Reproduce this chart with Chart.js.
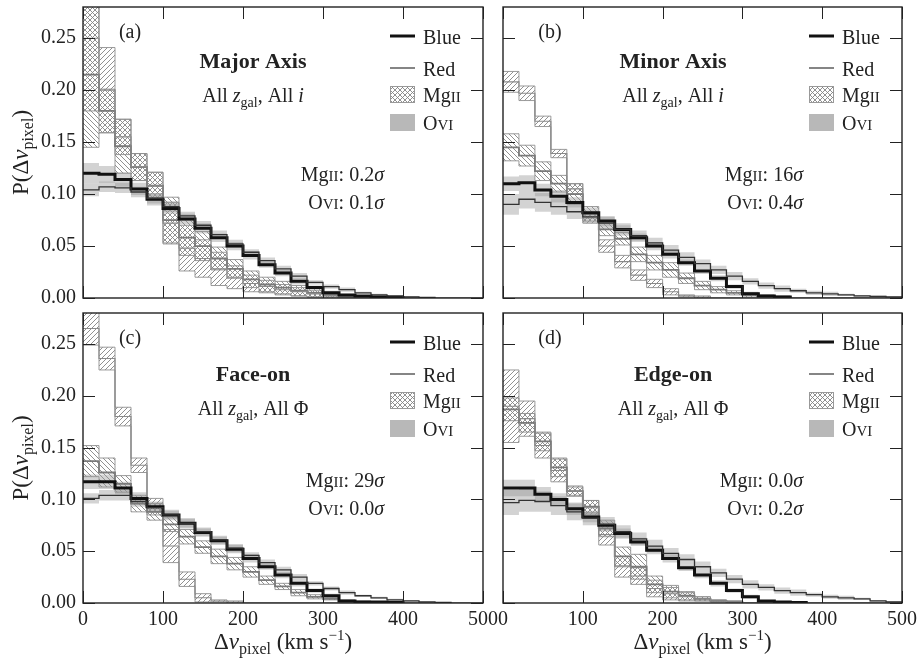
<!DOCTYPE html>
<html>
<head>
<meta charset="utf-8">
<script src="https://cdn.jsdelivr.net/npm/chart.js@4.4.0/dist/chart.umd.min.js"></script>
<style>
  body { margin: 0; background: #fff; width: 919px; height: 658px; position: relative; overflow: hidden; }
  canvas { position: absolute; }
</style>
</head>
<body>
<canvas id="c0" width="500" height="310" style="left:0;top:0"></canvas>
<canvas id="c1" width="429" height="310" style="left:490px;top:0"></canvas>
<canvas id="c2" width="500" height="353" style="left:0;top:305px"></canvas>
<canvas id="c3" width="429" height="353" style="left:490px;top:305px"></canvas>
<script>
// Bins (km/s), 20 km/s wide
const binStart = [0, 20, 40, 60, 80, 100, 120, 140, 160, 180, 200, 220, 240, 260, 280, 300, 320, 340, 360, 380, 400, 420, 440, 460, 480];
const binWidth = 20;
const xTickValues = [0, 100, 200, 300, 400, 500];
const yTickValues = [0, 0.05, 0.10, 0.15, 0.20, 0.25];

// Panel text
const panelLetters = ['(a)', '(b)', '(c)', '(d)'];
const panelTitles = ['Major Axis', 'Minor Axis', 'Face-on', 'Edge-on'];
const panelAngles = ['i', 'i', 'Φ', 'Φ'];
const mgSigma = ['0.2', '16', '29', '0.0'];
const oviSigma = ['0.1', '0.4', '0.0', '0.2'];

// (a) Major axis
const mgBlueA    = [0.215, 0.180, 0.146, 0.126, 0.108, 0.075, 0.058, 0.050, 0.038, 0.028, 0.018, 0.013, 0.010, 0.007, 0.005, 0.003, 0.001, 0, 0, 0, 0, 0, 0, 0, 0];
const mgBlueAErr = [0.070, 0.021, 0.026, 0.013, 0.013, 0.022, 0.017, 0.014, 0.011, 0.009, 0.008, 0.007, 0.006, 0.005, 0.004, 0.002, 0.001, 0, 0, 0, 0, 0, 0, 0, 0];
const mgRedA     = [0.250, 0.200, 0.155, 0.126, 0.108, 0.072, 0.048, 0.038, 0.028, 0.020, 0.014, 0.011, 0.008, 0.006, 0.004, 0.002, 0.001, 0, 0, 0, 0, 0, 0, 0, 0];
const mgRedAErr  = [0.070, 0.041, 0.017, 0.013, 0.013, 0.020, 0.022, 0.018, 0.016, 0.011, 0.008, 0.006, 0.005, 0.004, 0.003, 0.002, 0.001, 0, 0, 0, 0, 0, 0, 0, 0];
const oviBlueA    = [0.120, 0.119, 0.114, 0.105, 0.095, 0.086, 0.076, 0.067, 0.058, 0.050, 0.041, 0.032, 0.024, 0.016, 0.010, 0.005, 0.003, 0.002, 0.001, 0.0005, 0, 0, 0, 0, 0];
const oviBlueAErr = [0.010, 0.008, 0.007, 0.006, 0.006, 0.005, 0.005, 0.005, 0.004, 0.004, 0.004, 0.003, 0.003, 0.003, 0.002, 0.002, 0.001, 0.001, 0.001, 0.0005, 0, 0, 0, 0, 0];
const oviRedA     = [0.104, 0.107, 0.106, 0.102, 0.096, 0.088, 0.079, 0.070, 0.061, 0.052, 0.044, 0.036, 0.028, 0.021, 0.015, 0.011, 0.008, 0.005, 0.003, 0.002, 0.001, 0.0005, 0, 0, 0];
const oviRedAErr  = [0.006, 0.005, 0.005, 0.005, 0.005, 0.005, 0.004, 0.004, 0.004, 0.004, 0.003, 0.003, 0.003, 0.003, 0.002, 0.002, 0.002, 0.001, 0.001, 0.001, 0.001, 0.0005, 0, 0, 0];

// (b) Minor axis
const mgBlueB    = [0.145, 0.137, 0.122, 0.110, 0.100, 0.081, 0.066, 0.057, 0.042, 0.034, 0.027, 0.019, 0.012, 0.008, 0.005, 0.003, 0.002, 0.001, 0, 0, 0, 0, 0, 0, 0];
const mgBlueBErr = [0.013, 0.010, 0.009, 0.008, 0.010, 0.007, 0.006, 0.006, 0.007, 0.007, 0.007, 0.005, 0.004, 0.003, 0.002, 0.002, 0.001, 0.001, 0, 0, 0, 0, 0, 0, 0];
const mgRedB     = [0.208, 0.197, 0.170, 0.139, 0.105, 0.077, 0.050, 0.035, 0.022, 0.014, 0.006, 0.002, 0.001, 0, 0, 0, 0, 0, 0, 0, 0, 0, 0, 0, 0];
const mgRedBErr  = [0.010, 0.007, 0.005, 0.004, 0.005, 0.005, 0.006, 0.006, 0.005, 0.004, 0.003, 0.001, 0.001, 0, 0, 0, 0, 0, 0, 0, 0, 0, 0, 0, 0];
const oviBlueB    = [0.110, 0.111, 0.104, 0.098, 0.092, 0.082, 0.074, 0.066, 0.058, 0.050, 0.042, 0.034, 0.026, 0.019, 0.011, 0.004, 0.002, 0.001, 0, 0, 0, 0, 0, 0, 0];
const oviBlueBErr = [0.007, 0.007, 0.006, 0.006, 0.005, 0.005, 0.005, 0.004, 0.004, 0.004, 0.004, 0.003, 0.003, 0.003, 0.002, 0.002, 0.001, 0.001, 0, 0, 0, 0, 0, 0, 0];
const oviRedB     = [0.090, 0.095, 0.092, 0.088, 0.083, 0.078, 0.072, 0.066, 0.060, 0.053, 0.046, 0.039, 0.033, 0.027, 0.021, 0.016, 0.012, 0.009, 0.007, 0.005, 0.004, 0.003, 0.002, 0.0015, 0.001];
const oviRedBErr  = [0.010, 0.009, 0.009, 0.008, 0.007, 0.006, 0.006, 0.006, 0.005, 0.005, 0.005, 0.005, 0.004, 0.004, 0.004, 0.003, 0.003, 0.003, 0.002, 0.002, 0.002, 0.001, 0.001, 0.001, 0.001];

// (c) Face-on
const mgBlueC    = [0.137, 0.126, 0.115, 0.096, 0.088, 0.076, 0.064, 0.054, 0.045, 0.038, 0.030, 0.022, 0.016, 0.010, 0.006, 0.004, 0.002, 0.001, 0, 0, 0, 0, 0, 0, 0];
const mgBlueCErr = [0.015, 0.014, 0.008, 0.008, 0.008, 0.007, 0.007, 0.006, 0.007, 0.006, 0.005, 0.004, 0.003, 0.003, 0.002, 0.001, 0.001, 0.001, 0, 0, 0, 0, 0, 0, 0];
const mgRedC     = [0.265, 0.236, 0.180, 0.133, 0.093, 0.055, 0.023, 0.005, 0.002, 0.001, 0, 0, 0, 0, 0, 0, 0, 0, 0, 0, 0, 0, 0, 0, 0];
const mgRedCErr  = [0.016, 0.011, 0.009, 0.007, 0.008, 0.016, 0.007, 0.004, 0.001, 0.001, 0, 0, 0, 0, 0, 0, 0, 0, 0, 0, 0, 0, 0, 0, 0];
const oviBlueC    = [0.117, 0.117, 0.111, 0.101, 0.093, 0.085, 0.077, 0.068, 0.060, 0.052, 0.043, 0.035, 0.027, 0.019, 0.012, 0.007, 0.002, 0.001, 0.001, 0.0005, 0, 0, 0, 0, 0];
const oviBlueCErr = [0.007, 0.007, 0.006, 0.006, 0.005, 0.005, 0.005, 0.004, 0.004, 0.004, 0.004, 0.003, 0.003, 0.003, 0.002, 0.002, 0.001, 0.001, 0.001, 0.0005, 0, 0, 0, 0, 0];
const oviRedC     = [0.101, 0.104, 0.104, 0.098, 0.092, 0.085, 0.077, 0.069, 0.061, 0.053, 0.046, 0.039, 0.032, 0.025, 0.019, 0.014, 0.010, 0.007, 0.005, 0.003, 0.002, 0.001, 0.0005, 0, 0];
const oviRedCErr  = [0.005, 0.005, 0.005, 0.005, 0.005, 0.004, 0.004, 0.004, 0.004, 0.004, 0.003, 0.003, 0.003, 0.003, 0.002, 0.002, 0.002, 0.001, 0.001, 0.001, 0.001, 0.0005, 0.0005, 0, 0];

// (d) Edge-on
const mgBlueD    = [0.187, 0.174, 0.156, 0.131, 0.108, 0.093, 0.072, 0.045, 0.035, 0.018, 0.011, 0.007, 0.004, 0.002, 0.001, 0, 0, 0, 0, 0, 0, 0, 0, 0, 0];
const mgBlueDErr = [0.011, 0.009, 0.009, 0.009, 0.004, 0.006, 0.008, 0.009, 0.012, 0.008, 0.006, 0.004, 0.002, 0.001, 0.001, 0, 0, 0, 0, 0, 0, 0, 0, 0, 0];
const mgRedD     = [0.190, 0.178, 0.152, 0.128, 0.108, 0.092, 0.066, 0.035, 0.026, 0.014, 0.009, 0.006, 0.004, 0.002, 0.001, 0, 0, 0, 0, 0, 0, 0, 0, 0, 0];
const mgRedDErr  = [0.035, 0.017, 0.012, 0.011, 0.005, 0.007, 0.010, 0.010, 0.008, 0.008, 0.006, 0.004, 0.002, 0.001, 0.001, 0, 0, 0, 0, 0, 0, 0, 0, 0, 0];
const oviBlueD    = [0.111, 0.111, 0.105, 0.100, 0.091, 0.083, 0.075, 0.067, 0.059, 0.051, 0.043, 0.034, 0.027, 0.019, 0.012, 0.006, 0.002, 0.001, 0.0005, 0, 0, 0, 0, 0, 0];
const oviBlueDErr = [0.008, 0.008, 0.007, 0.006, 0.006, 0.005, 0.005, 0.005, 0.004, 0.004, 0.004, 0.003, 0.003, 0.003, 0.002, 0.002, 0.001, 0.001, 0.0005, 0, 0, 0, 0, 0, 0];
const oviRedD     = [0.097, 0.099, 0.098, 0.094, 0.088, 0.082, 0.076, 0.069, 0.062, 0.055, 0.048, 0.042, 0.035, 0.029, 0.023, 0.018, 0.015, 0.012, 0.010, 0.008, 0.006, 0.005, 0.004, 0.002, 0.001];
const oviRedDErr  = [0.012, 0.011, 0.010, 0.009, 0.008, 0.007, 0.007, 0.006, 0.006, 0.006, 0.005, 0.005, 0.005, 0.004, 0.004, 0.004, 0.003, 0.003, 0.003, 0.002, 0.002, 0.002, 0.001, 0.001, 0.001];

const panelSeries = [
  [mgBlueA, mgBlueAErr, mgRedA, mgRedAErr, oviBlueA, oviBlueAErr, oviRedA, oviRedAErr],
  [mgBlueB, mgBlueBErr, mgRedB, mgRedBErr, oviBlueB, oviBlueBErr, oviRedB, oviRedBErr],
  [mgBlueC, mgBlueCErr, mgRedC, mgRedCErr, oviBlueC, oviBlueCErr, oviRedC, oviRedCErr],
  [mgBlueD, mgBlueDErr, mgRedD, mgRedDErr, oviBlueD, oviBlueDErr, oviRedD, oviRedDErr]
];

const SERIF = '"Liberation Serif", "Times New Roman", serif';
const ink = '#222';
const R = s => `${s}px ${SERIF}`;
const I = s => `italic ${s}px ${SERIF}`;
const B = s => `bold ${s}px ${SERIF}`;

// hatch fills: 'fwd' = ////, 'back' = \\\\, 'cross' = both
function hatchPattern(kind) {
  const s = 5;
  const c = document.createElement('canvas');
  c.width = s; c.height = s;
  const g = c.getContext('2d');
  g.strokeStyle = '#858585';
  g.lineWidth = 0.9;
  g.beginPath();
  if (kind !== 'back') {
    g.moveTo(0, s); g.lineTo(s, 0);
    g.moveTo(-s / 2, s / 2); g.lineTo(s / 2, -s / 2);
    g.moveTo(s / 2, s * 1.5); g.lineTo(s * 1.5, s / 2);
  }
  if (kind !== 'fwd') {
    g.moveTo(0, 0); g.lineTo(s, s);
    g.moveTo(s / 2, -s / 2); g.lineTo(s * 1.5, s / 2);
    g.moveTo(-s / 2, s / 2); g.lineTo(s / 2, s * 1.5);
  }
  g.stroke();
  return g.createPattern(c, 'repeat');
}
const hatchRed = hatchPattern('fwd');
const hatchBlue = hatchPattern('back');
const hatchCross = hatchPattern('cross');

function stepPts(vals, trim) {
  let last = vals.length - 1;
  if (trim) while (last > 0 && vals[last] <= 0) last--;
  const pts = vals.slice(0, last + 1).map((v, k) => ({ x: binStart[k], y: v }));
  pts.push({ x: binStart[last] + binWidth, y: trim ? 0 : vals[last] });
  return pts;
}

function bandSets(vals, errs, fillStyle, edge) {
  const lo = vals.map((v, k) => Math.max(0, v - errs[k]));
  const hi = vals.map((v, k) => v + errs[k]);
  const common = { stepped: true, pointRadius: 0, borderColor: edge, borderWidth: 0.9, order: 2 };
  return [
    { ...common, data: stepPts(lo), fill: false },
    { ...common, data: stepPts(hi), fill: '-1', backgroundColor: fillStyle }
  ];
}

function lineSet(vals, color, width, order) {
  return { data: stepPts(vals, true), stepped: true, pointRadius: 0, borderColor: color, borderWidth: width, fill: false, order };
}

function drawRuns(ctx, parts, x, y, align) {
  let w = 0;
  parts.forEach(p => { ctx.font = p[1]; w += ctx.measureText(p[0]).width; });
  let cx = align === 'center' ? x - w / 2 : align === 'right' ? x - w : x;
  ctx.textAlign = 'left';
  ctx.textBaseline = 'alphabetic';
  parts.forEach(p => {
    ctx.font = p[1];
    ctx.fillText(p[0], cx, y + (p[2] || 0));
    cx += ctx.measureText(p[0]).width;
  });
}

function decor(i) {
  return {
    id: 'decor' + i,
    afterDraw(chart) {
      const { ctx, chartArea: ca, scales } = chart;
      ctx.save();
      // frame + inward ticks
      ctx.strokeStyle = ink;
      ctx.lineWidth = 1.4;
      ctx.strokeRect(ca.left, ca.top, ca.right - ca.left, ca.bottom - ca.top);
      ctx.lineWidth = 1;
      ctx.beginPath();
      scales.x.ticks.forEach(t => {
        const px = Math.round(scales.x.getPixelForValue(t.value)) + 0.5;
        ctx.moveTo(px, ca.bottom); ctx.lineTo(px, ca.bottom - 12);
        ctx.moveTo(px, ca.top); ctx.lineTo(px, ca.top + 12);
      });
      scales.y.ticks.forEach(t => {
        const py = Math.round(scales.y.getPixelForValue(t.value)) + 0.5;
        ctx.moveTo(ca.left, py); ctx.lineTo(ca.left + 12, py);
        ctx.moveTo(ca.right, py); ctx.lineTo(ca.right - 12, py);
      });
      ctx.stroke();

      ctx.fillStyle = ink;
      const row = i >= 2 ? 7 : 0;
      drawRuns(ctx, [[panelLetters[i], R(20)]], ca.left + 47, ca.top + 31, 'center');
      drawRuns(ctx, [[panelTitles[i], B(22)]], ca.left + 170, ca.top + 61 + row, 'center');
      drawRuns(ctx, [['All ', R(20)], ['z', I(20)], ['gal', R(14), 5], [', All ', R(20)],
        [panelAngles[i], i < 2 ? I(20) : R(20)]], ca.left + 170, ca.top + 95 + row, 'center');

      // legend
      const lx = ca.right - 93, tx = ca.right - 60;
      ctx.strokeStyle = '#111';
      ctx.lineWidth = 3;
      ctx.beginPath(); ctx.moveTo(lx, ca.top + 29); ctx.lineTo(lx + 25, ca.top + 29); ctx.stroke();
      ctx.strokeStyle = '#333';
      ctx.lineWidth = 1.2;
      ctx.beginPath(); ctx.moveTo(lx, ca.top + 61); ctx.lineTo(lx + 25, ca.top + 61); ctx.stroke();
      ctx.fillStyle = hatchCross;
      ctx.fillRect(lx, ca.top + 79, 25, 17);
      ctx.strokeStyle = '#999';
      ctx.lineWidth = 1;
      ctx.strokeRect(lx + 0.5, ca.top + 79.5, 24, 16);
      ctx.fillStyle = '#b8b8b8';
      ctx.fillRect(lx, ca.top + 107, 25, 17);
      ctx.fillStyle = ink;
      drawRuns(ctx, [['Blue', R(20)]], tx, ca.top + 37, 'left');
      drawRuns(ctx, [['Red', R(20)]], tx, ca.top + 69, 'left');
      drawRuns(ctx, [['Mg', R(20)], ['II', R(15)]], tx, ca.top + 95, 'left');
      drawRuns(ctx, [['O', R(20)], ['VI', R(15)]], tx, ca.top + 123, 'left');

      // significance
      drawRuns(ctx, [['Mg', R(20)], ['II', R(15)], [': ' + mgSigma[i], R(20)], ['σ', I(20)]], ca.right - 99, ca.top + 174, 'right');
      drawRuns(ctx, [['O', R(20)], ['VI', R(15)], [': ' + oviSigma[i], R(20)], ['σ', I(20)]], ca.right - 99, ca.top + 202, 'right');

      // axis titles
      if (i % 2 === 0) {
        ctx.save();
        ctx.translate(21, (ca.top + ca.bottom) / 2);
        ctx.rotate(-Math.PI / 2);
        drawRuns(ctx, [['P(Δ', R(23)], ['v', I(23)], ['pixel', R(16), 5], [')', R(23)]], 0, 7, 'center');
        ctx.restore();
      }
      if (i >= 2) {
        drawRuns(ctx, [['Δ', R(23)], ['v', I(23)], ['pixel', R(16), 5], [' (km s', R(23)], ['−1', R(15), -9], [')', R(23)]],
          (ca.left + ca.right) / 2, ca.bottom + 46, 'center');
      }
      ctx.restore();
    }
  };
}

const layouts = [
  { top: 7, yW: 83, xH: 12 },
  { top: 7, yW: 13, xH: 12 },
  { top: 8, yW: 83, xH: 55 },
  { top: 8, yW: 13, xH: 55 }
];

panelSeries.forEach((s, i) => {
  const [mgB, mgBE, mgR, mgRE, oB, oBE, oR, oRE] = s;
  const L = layouts[i];
  const datasets = [
    ...bandSets(oR, oRE, 'rgba(150,150,150,0.42)', 'rgba(0,0,0,0)'),
    ...bandSets(oB, oBE, 'rgba(150,150,150,0.42)', 'rgba(0,0,0,0)'),
    ...bandSets(mgR, mgRE, hatchRed, '#8e8e8e'),
    ...bandSets(mgB, mgBE, hatchBlue, '#8e8e8e'),
    lineSet(mgR, '#8a8a8a', 1.1, 1),
    lineSet(mgB, '#7a7a7a', 1.8, 1),
    lineSet(oR, '#333', 1.3, 0),
    lineSet(oB, '#111', 3, 0)
  ];
  new Chart(document.getElementById('c' + i), {
    type: 'line',
    data: { datasets },
    options: {
      responsive: false,
      animation: false,
      layout: { padding: { left: 0, right: 17, top: L.top, bottom: 0 } },
      plugins: { legend: { display: false }, tooltip: { enabled: false } },
      scales: {
        x: {
          type: 'linear', min: 0, max: 500,
          grid: { display: false, drawTicks: false }, border: { display: false },
          ticks: { display: i >= 2, color: ink, font: { family: SERIF, size: 20 }, padding: 5, maxRotation: 0, autoSkip: false, callback: v => String(v) },
          afterBuildTicks: sc => { sc.ticks = xTickValues.map(v => ({ value: v })); },
          afterFit: sc => { sc.height = L.xH; sc.paddingLeft = 0; sc.paddingRight = 0; }
        },
        y: {
          min: 0, max: 0.28,
          grid: { display: false, drawTicks: false }, border: { display: false },
          ticks: { display: i % 2 === 0, color: ink, font: { family: SERIF, size: 20 }, padding: 7, callback: v => Number(v).toFixed(2) },
          afterBuildTicks: sc => { sc.ticks = yTickValues.map(v => ({ value: v })); },
          afterFit: sc => { sc.width = L.yW; sc.paddingTop = 0; sc.paddingBottom = 0; }
        }
      }
    },
    plugins: [decor(i)]
  });
});
</script>
</body>
</html>
